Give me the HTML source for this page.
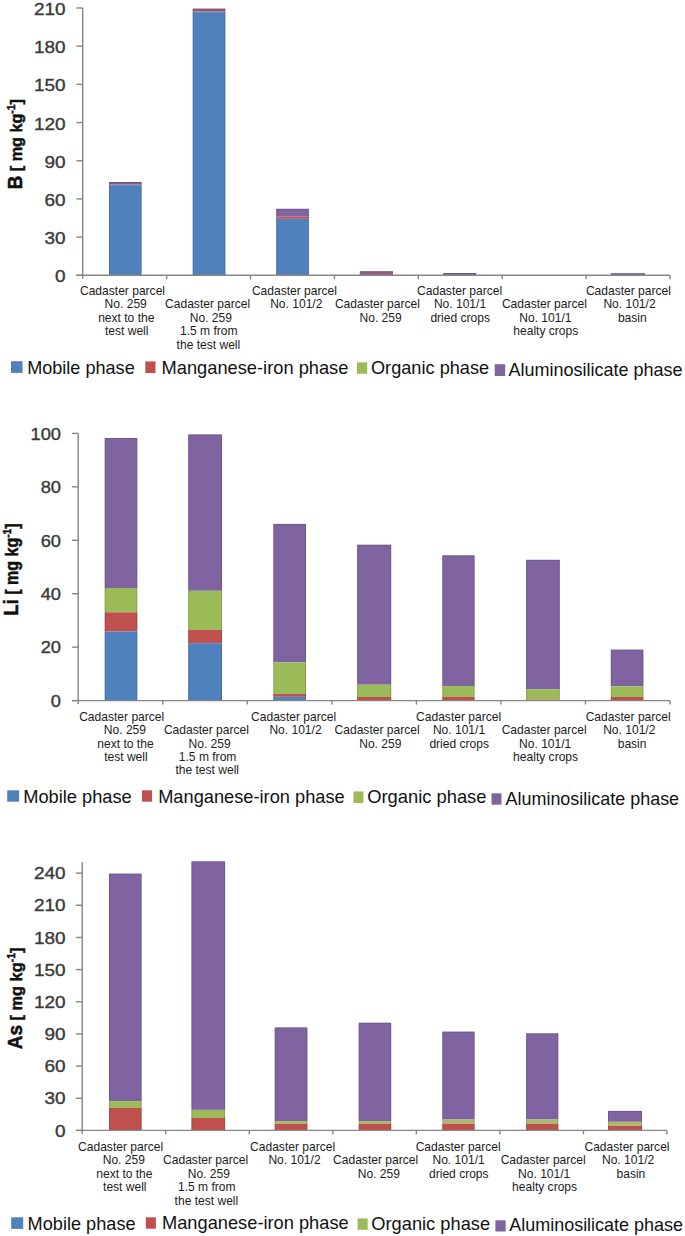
<!DOCTYPE html>
<html><head><meta charset="utf-8"><title>Chart</title>
<style>
html,body{margin:0;padding:0;background:#fff;}
body{width:685px;height:1236px;overflow:hidden;}
svg{display:block;font-family:'Liberation Sans', sans-serif;}
</style></head>
<body>
<svg width="685" height="1236" viewBox="0 0 685 1236">
<rect x="0" y="0" width="685" height="1236" fill="#fff"/>
<rect x="109.00" y="182.00" width="32.60" height="2.40" fill="#84608C"/>
<rect x="109.00" y="184.40" width="32.60" height="1.40" fill="#6A6FA6"/>
<rect x="109.00" y="185.80" width="32.60" height="89.50" fill="#4F81BD"/>
<path d="M109.50,275.30 V182.50 H141.10 V275.30" fill="none" stroke="#000" stroke-opacity="0.13" stroke-width="1"/>
<rect x="192.70" y="8.60" width="32.70" height="2.80" fill="#985A6C"/>
<rect x="192.70" y="11.40" width="32.70" height="1.40" fill="#6C6FA4"/>
<rect x="192.70" y="12.80" width="32.70" height="262.50" fill="#4F81BD"/>
<path d="M193.20,275.30 V9.10 H224.90 V275.30" fill="none" stroke="#000" stroke-opacity="0.13" stroke-width="1"/>
<rect x="276.20" y="208.80" width="32.70" height="7.70" fill="#8064A2"/>
<rect x="276.20" y="216.50" width="32.70" height="2.30" fill="#C0504D"/>
<rect x="276.20" y="218.80" width="32.70" height="56.50" fill="#4F81BD"/>
<path d="M276.70,275.30 V209.30 H308.40 V275.30" fill="none" stroke="#000" stroke-opacity="0.13" stroke-width="1"/>
<rect x="359.80" y="271.20" width="33.10" height="4.10" fill="#945E82"/>
<path d="M360.30,275.30 V271.70 H392.40 V275.30" fill="none" stroke="#000" stroke-opacity="0.13" stroke-width="1"/>
<rect x="443.30" y="273.00" width="32.90" height="2.30" fill="#8064A2"/>
<path d="M443.80,275.30 V273.50 H475.70 V275.30" fill="none" stroke="#000" stroke-opacity="0.13" stroke-width="1"/>
<rect x="610.80" y="273.20" width="34.20" height="2.10" fill="#8064A2"/>
<path d="M611.30,275.30 V273.70 H644.50 V275.30" fill="none" stroke="#000" stroke-opacity="0.13" stroke-width="1"/>
<line x1="82.70" y1="8.00" x2="82.70" y2="278.80" stroke="#868686" stroke-width="1.4"/>
<line x1="76.40" y1="275.30" x2="82.70" y2="275.30" stroke="#868686" stroke-width="1.4"/>
<text x="65.60" y="282.40" font-size="16.2" fill="#3a3a3a" stroke="#3a3a3a" stroke-width="0.35" text-anchor="end" transform="translate(65.60,0) scale(1.17,1) translate(-65.60,0)">0</text>
<line x1="76.40" y1="237.11" x2="82.70" y2="237.11" stroke="#868686" stroke-width="1.4"/>
<text x="65.60" y="244.21" font-size="16.2" fill="#3a3a3a" stroke="#3a3a3a" stroke-width="0.35" text-anchor="end" transform="translate(65.60,0) scale(1.17,1) translate(-65.60,0)">30</text>
<line x1="76.40" y1="198.92" x2="82.70" y2="198.92" stroke="#868686" stroke-width="1.4"/>
<text x="65.60" y="206.02" font-size="16.2" fill="#3a3a3a" stroke="#3a3a3a" stroke-width="0.35" text-anchor="end" transform="translate(65.60,0) scale(1.17,1) translate(-65.60,0)">60</text>
<line x1="76.40" y1="160.73" x2="82.70" y2="160.73" stroke="#868686" stroke-width="1.4"/>
<text x="65.60" y="167.83" font-size="16.2" fill="#3a3a3a" stroke="#3a3a3a" stroke-width="0.35" text-anchor="end" transform="translate(65.60,0) scale(1.17,1) translate(-65.60,0)">90</text>
<line x1="76.40" y1="122.54" x2="82.70" y2="122.54" stroke="#868686" stroke-width="1.4"/>
<text x="65.60" y="129.64" font-size="16.2" fill="#3a3a3a" stroke="#3a3a3a" stroke-width="0.35" text-anchor="end" transform="translate(65.60,0) scale(1.17,1) translate(-65.60,0)">120</text>
<line x1="76.40" y1="84.35" x2="82.70" y2="84.35" stroke="#868686" stroke-width="1.4"/>
<text x="65.60" y="91.45" font-size="16.2" fill="#3a3a3a" stroke="#3a3a3a" stroke-width="0.35" text-anchor="end" transform="translate(65.60,0) scale(1.17,1) translate(-65.60,0)">150</text>
<line x1="76.40" y1="46.16" x2="82.70" y2="46.16" stroke="#868686" stroke-width="1.4"/>
<text x="65.60" y="53.26" font-size="16.2" fill="#3a3a3a" stroke="#3a3a3a" stroke-width="0.35" text-anchor="end" transform="translate(65.60,0) scale(1.17,1) translate(-65.60,0)">180</text>
<line x1="76.40" y1="7.97" x2="82.70" y2="7.97" stroke="#868686" stroke-width="1.4"/>
<text x="65.60" y="15.07" font-size="16.2" fill="#3a3a3a" stroke="#3a3a3a" stroke-width="0.35" text-anchor="end" transform="translate(65.60,0) scale(1.17,1) translate(-65.60,0)">210</text>
<line x1="76.40" y1="275.30" x2="670.00" y2="275.30" stroke="#868686" stroke-width="1.4"/>
<line x1="166.60" y1="275.30" x2="166.60" y2="279.30" stroke="#868686" stroke-width="1.4"/>
<line x1="250.50" y1="275.30" x2="250.50" y2="279.30" stroke="#868686" stroke-width="1.4"/>
<line x1="334.40" y1="275.30" x2="334.40" y2="279.30" stroke="#868686" stroke-width="1.4"/>
<line x1="418.30" y1="275.30" x2="418.30" y2="279.30" stroke="#868686" stroke-width="1.4"/>
<line x1="502.20" y1="275.30" x2="502.20" y2="279.30" stroke="#868686" stroke-width="1.4"/>
<line x1="586.10" y1="275.30" x2="586.10" y2="279.30" stroke="#868686" stroke-width="1.4"/>
<line x1="670.00" y1="275.30" x2="670.00" y2="279.30" stroke="#868686" stroke-width="1.4"/>
<text x="122.50" y="295.10" font-size="12.05" fill="#1c1c1c" text-anchor="middle" font-weight="normal" >Cadaster parcel</text>
<text x="125.70" y="308.47" font-size="12.05" fill="#1c1c1c" text-anchor="middle" font-weight="normal" >No. 259</text>
<text x="126.30" y="321.84" font-size="12.05" fill="#1c1c1c" text-anchor="middle" font-weight="normal" >next to the</text>
<text x="126.70" y="335.21" font-size="12.05" fill="#1c1c1c" text-anchor="middle" font-weight="normal" >test well</text>
<text x="207.60" y="308.47" font-size="12.05" fill="#1c1c1c" text-anchor="middle" font-weight="normal" >Cadaster parcel</text>
<text x="210.80" y="321.84" font-size="12.05" fill="#1c1c1c" text-anchor="middle" font-weight="normal" >No. 259</text>
<text x="208.80" y="335.21" font-size="12.05" fill="#1c1c1c" text-anchor="middle" font-weight="normal" >1.5 m from</text>
<text x="208.40" y="348.58" font-size="12.05" fill="#1c1c1c" text-anchor="middle" font-weight="normal" >the test well</text>
<text x="294.40" y="295.10" font-size="12.05" fill="#1c1c1c" text-anchor="middle" font-weight="normal" >Cadaster parcel</text>
<text x="296.30" y="308.47" font-size="12.05" fill="#1c1c1c" text-anchor="middle" font-weight="normal" >No. 101/2</text>
<text x="377.40" y="308.47" font-size="12.05" fill="#1c1c1c" text-anchor="middle" font-weight="normal" >Cadaster parcel</text>
<text x="380.60" y="321.84" font-size="12.05" fill="#1c1c1c" text-anchor="middle" font-weight="normal" >No. 259</text>
<text x="459.60" y="295.10" font-size="12.05" fill="#1c1c1c" text-anchor="middle" font-weight="normal" >Cadaster parcel</text>
<text x="460.00" y="308.47" font-size="12.05" fill="#1c1c1c" text-anchor="middle" font-weight="normal" >No. 101/1</text>
<text x="460.20" y="321.84" font-size="12.05" fill="#1c1c1c" text-anchor="middle" font-weight="normal" >dried crops</text>
<text x="544.40" y="308.47" font-size="12.05" fill="#1c1c1c" text-anchor="middle" font-weight="normal" >Cadaster parcel</text>
<text x="545.40" y="321.84" font-size="12.05" fill="#1c1c1c" text-anchor="middle" font-weight="normal" >No. 101/1</text>
<text x="545.80" y="335.21" font-size="12.05" fill="#1c1c1c" text-anchor="middle" font-weight="normal" >healty crops</text>
<text x="628.40" y="295.10" font-size="12.05" fill="#1c1c1c" text-anchor="middle" font-weight="normal" >Cadaster parcel</text>
<text x="629.50" y="308.47" font-size="12.05" fill="#1c1c1c" text-anchor="middle" font-weight="normal" >No. 101/2</text>
<text x="632.30" y="321.84" font-size="12.05" fill="#1c1c1c" text-anchor="middle" font-weight="normal" >basin</text>
<text transform="translate(22.20,189.30) rotate(-90)" x="0" y="0" font-size="20.0" font-weight="bold" fill="#111" stroke="#111" stroke-width="0.5" textLength="90.30" lengthAdjust="spacingAndGlyphs">B<tspan font-size="17.2"> [ mg kg</tspan><tspan font-size="11.0" dy="-6.8">-1</tspan><tspan font-size="17.2" dy="6.8">]</tspan></text>
<rect x="11.00" y="361.20" width="11.60" height="11.70" fill="#4F81BD"/>
<text x="27.20" y="373.60" font-size="17.9" fill="#111" textLength="107.50" lengthAdjust="spacingAndGlyphs">Mobile phase</text>
<rect x="145.30" y="361.40" width="10.20" height="11.60" fill="#C0504D"/>
<text x="161.60" y="373.80" font-size="17.9" fill="#111" textLength="186.80" lengthAdjust="spacingAndGlyphs">Manganese-iron phase</text>
<rect x="357.00" y="362.30" width="10.20" height="11.50" fill="#9BBB59"/>
<text x="371.00" y="374.30" font-size="17.9" fill="#111" textLength="118.10" lengthAdjust="spacingAndGlyphs">Organic phase</text>
<rect x="494.70" y="364.20" width="10.50" height="11.80" fill="#8064A2"/>
<text x="508.50" y="375.60" font-size="17.9" fill="#111" textLength="174.10" lengthAdjust="spacingAndGlyphs">Aluminosilicate phase</text>
<rect x="104.70" y="438.00" width="32.60" height="150.00" fill="#8064A2"/>
<rect x="104.70" y="588.00" width="32.60" height="24.30" fill="#9BBB59"/>
<rect x="104.70" y="612.30" width="32.60" height="19.20" fill="#C0504D"/>
<rect x="104.70" y="631.50" width="32.60" height="69.10" fill="#4F81BD"/>
<path d="M105.20,700.60 V438.50 H136.80 V700.60" fill="none" stroke="#000" stroke-opacity="0.13" stroke-width="1"/>
<rect x="188.20" y="434.40" width="33.80" height="156.40" fill="#8064A2"/>
<rect x="188.20" y="590.80" width="33.80" height="39.10" fill="#9BBB59"/>
<rect x="188.20" y="629.90" width="33.80" height="13.30" fill="#C0504D"/>
<rect x="188.20" y="643.20" width="33.80" height="57.40" fill="#4F81BD"/>
<path d="M188.70,700.60 V434.90 H221.50 V700.60" fill="none" stroke="#000" stroke-opacity="0.13" stroke-width="1"/>
<rect x="273.30" y="523.90" width="32.70" height="138.40" fill="#8064A2"/>
<rect x="273.30" y="662.30" width="32.70" height="31.70" fill="#9BBB59"/>
<rect x="273.30" y="694.00" width="32.70" height="2.80" fill="#C0504D"/>
<rect x="273.30" y="696.80" width="32.70" height="3.80" fill="#4F81BD"/>
<path d="M273.80,700.60 V524.40 H305.50 V700.60" fill="none" stroke="#000" stroke-opacity="0.13" stroke-width="1"/>
<rect x="357.10" y="544.70" width="34.10" height="140.00" fill="#8064A2"/>
<rect x="357.10" y="684.70" width="34.10" height="12.30" fill="#9BBB59"/>
<rect x="357.10" y="697.00" width="34.10" height="3.60" fill="#C0504D"/>
<path d="M357.60,700.60 V545.20 H390.70 V700.60" fill="none" stroke="#000" stroke-opacity="0.13" stroke-width="1"/>
<rect x="442.30" y="555.30" width="32.30" height="130.80" fill="#8064A2"/>
<rect x="442.30" y="686.10" width="32.30" height="10.70" fill="#9BBB59"/>
<rect x="442.30" y="696.80" width="32.30" height="3.80" fill="#C0504D"/>
<path d="M442.80,700.60 V555.80 H474.10 V700.60" fill="none" stroke="#000" stroke-opacity="0.13" stroke-width="1"/>
<rect x="526.10" y="559.80" width="33.70" height="129.40" fill="#8064A2"/>
<rect x="526.10" y="689.20" width="33.70" height="10.40" fill="#9BBB59"/>
<rect x="526.10" y="699.60" width="33.70" height="1.00" fill="#C0504D"/>
<path d="M526.60,700.60 V560.30 H559.30 V700.60" fill="none" stroke="#000" stroke-opacity="0.13" stroke-width="1"/>
<rect x="610.80" y="649.60" width="32.60" height="36.80" fill="#8064A2"/>
<rect x="610.80" y="686.40" width="32.60" height="10.50" fill="#9BBB59"/>
<rect x="610.80" y="696.90" width="32.60" height="3.70" fill="#C0504D"/>
<path d="M611.30,700.60 V650.10 H642.90 V700.60" fill="none" stroke="#000" stroke-opacity="0.13" stroke-width="1"/>
<line x1="78.20" y1="433.40" x2="78.20" y2="704.10" stroke="#868686" stroke-width="1.4"/>
<line x1="71.90" y1="700.60" x2="78.20" y2="700.60" stroke="#868686" stroke-width="1.4"/>
<text x="61.00" y="706.90" font-size="15.6" fill="#3a3a3a" stroke="#3a3a3a" stroke-width="0.35" text-anchor="end" transform="translate(61.00,0) scale(1.17,1) translate(-61.00,0)">0</text>
<line x1="71.90" y1="647.16" x2="78.20" y2="647.16" stroke="#868686" stroke-width="1.4"/>
<text x="61.00" y="653.46" font-size="15.6" fill="#3a3a3a" stroke="#3a3a3a" stroke-width="0.35" text-anchor="end" transform="translate(61.00,0) scale(1.17,1) translate(-61.00,0)">20</text>
<line x1="71.90" y1="593.72" x2="78.20" y2="593.72" stroke="#868686" stroke-width="1.4"/>
<text x="61.00" y="600.02" font-size="15.6" fill="#3a3a3a" stroke="#3a3a3a" stroke-width="0.35" text-anchor="end" transform="translate(61.00,0) scale(1.17,1) translate(-61.00,0)">40</text>
<line x1="71.90" y1="540.28" x2="78.20" y2="540.28" stroke="#868686" stroke-width="1.4"/>
<text x="61.00" y="546.58" font-size="15.6" fill="#3a3a3a" stroke="#3a3a3a" stroke-width="0.35" text-anchor="end" transform="translate(61.00,0) scale(1.17,1) translate(-61.00,0)">60</text>
<line x1="71.90" y1="486.84" x2="78.20" y2="486.84" stroke="#868686" stroke-width="1.4"/>
<text x="61.00" y="493.14" font-size="15.6" fill="#3a3a3a" stroke="#3a3a3a" stroke-width="0.35" text-anchor="end" transform="translate(61.00,0) scale(1.17,1) translate(-61.00,0)">80</text>
<line x1="71.90" y1="433.40" x2="78.20" y2="433.40" stroke="#868686" stroke-width="1.4"/>
<text x="61.00" y="439.70" font-size="15.6" fill="#3a3a3a" stroke="#3a3a3a" stroke-width="0.35" text-anchor="end" transform="translate(61.00,0) scale(1.17,1) translate(-61.00,0)">100</text>
<line x1="71.90" y1="700.60" x2="670.00" y2="700.60" stroke="#868686" stroke-width="1.4"/>
<line x1="162.74" y1="700.60" x2="162.74" y2="704.60" stroke="#868686" stroke-width="1.4"/>
<line x1="247.29" y1="700.60" x2="247.29" y2="704.60" stroke="#868686" stroke-width="1.4"/>
<line x1="331.83" y1="700.60" x2="331.83" y2="704.60" stroke="#868686" stroke-width="1.4"/>
<line x1="416.37" y1="700.60" x2="416.37" y2="704.60" stroke="#868686" stroke-width="1.4"/>
<line x1="500.91" y1="700.60" x2="500.91" y2="704.60" stroke="#868686" stroke-width="1.4"/>
<line x1="585.46" y1="700.60" x2="585.46" y2="704.60" stroke="#868686" stroke-width="1.4"/>
<line x1="670.00" y1="700.60" x2="670.00" y2="704.60" stroke="#868686" stroke-width="1.4"/>
<text x="121.70" y="720.80" font-size="12.05" fill="#1c1c1c" text-anchor="middle" font-weight="normal" >Cadaster parcel</text>
<text x="124.90" y="734.17" font-size="12.05" fill="#1c1c1c" text-anchor="middle" font-weight="normal" >No. 259</text>
<text x="125.50" y="747.54" font-size="12.05" fill="#1c1c1c" text-anchor="middle" font-weight="normal" >next to the</text>
<text x="125.90" y="760.91" font-size="12.05" fill="#1c1c1c" text-anchor="middle" font-weight="normal" >test well</text>
<text x="206.40" y="734.17" font-size="12.05" fill="#1c1c1c" text-anchor="middle" font-weight="normal" >Cadaster parcel</text>
<text x="209.60" y="747.54" font-size="12.05" fill="#1c1c1c" text-anchor="middle" font-weight="normal" >No. 259</text>
<text x="207.60" y="760.91" font-size="12.05" fill="#1c1c1c" text-anchor="middle" font-weight="normal" >1.5 m from</text>
<text x="207.20" y="774.28" font-size="12.05" fill="#1c1c1c" text-anchor="middle" font-weight="normal" >the test well</text>
<text x="293.60" y="720.80" font-size="12.05" fill="#1c1c1c" text-anchor="middle" font-weight="normal" >Cadaster parcel</text>
<text x="295.50" y="734.17" font-size="12.05" fill="#1c1c1c" text-anchor="middle" font-weight="normal" >No. 101/2</text>
<text x="377.10" y="734.17" font-size="12.05" fill="#1c1c1c" text-anchor="middle" font-weight="normal" >Cadaster parcel</text>
<text x="380.30" y="747.54" font-size="12.05" fill="#1c1c1c" text-anchor="middle" font-weight="normal" >No. 259</text>
<text x="458.60" y="720.80" font-size="12.05" fill="#1c1c1c" text-anchor="middle" font-weight="normal" >Cadaster parcel</text>
<text x="459.00" y="734.17" font-size="12.05" fill="#1c1c1c" text-anchor="middle" font-weight="normal" >No. 101/1</text>
<text x="459.20" y="747.54" font-size="12.05" fill="#1c1c1c" text-anchor="middle" font-weight="normal" >dried crops</text>
<text x="544.20" y="734.17" font-size="12.05" fill="#1c1c1c" text-anchor="middle" font-weight="normal" >Cadaster parcel</text>
<text x="545.20" y="747.54" font-size="12.05" fill="#1c1c1c" text-anchor="middle" font-weight="normal" >No. 101/1</text>
<text x="545.60" y="760.91" font-size="12.05" fill="#1c1c1c" text-anchor="middle" font-weight="normal" >healty crops</text>
<text x="628.20" y="720.80" font-size="12.05" fill="#1c1c1c" text-anchor="middle" font-weight="normal" >Cadaster parcel</text>
<text x="629.30" y="734.17" font-size="12.05" fill="#1c1c1c" text-anchor="middle" font-weight="normal" >No. 101/2</text>
<text x="632.10" y="747.54" font-size="12.05" fill="#1c1c1c" text-anchor="middle" font-weight="normal" >basin</text>
<text transform="translate(18.10,615.70) rotate(-90)" x="0" y="0" font-size="20.8" font-weight="bold" fill="#111" stroke="#111" stroke-width="0.5" textLength="92.30" lengthAdjust="spacingAndGlyphs">Li<tspan font-size="17.9"> [ mg kg</tspan><tspan font-size="11.4" dy="-7.1">-1</tspan><tspan font-size="17.9" dy="7.1">]</tspan></text>
<rect x="7.20" y="790.30" width="11.90" height="11.40" fill="#4F81BD"/>
<text x="23.20" y="802.90" font-size="17.9" fill="#111" textLength="108.50" lengthAdjust="spacingAndGlyphs">Mobile phase</text>
<rect x="142.00" y="790.30" width="10.00" height="11.40" fill="#C0504D"/>
<text x="158.20" y="802.70" font-size="17.9" fill="#111" textLength="186.50" lengthAdjust="spacingAndGlyphs">Manganese-iron phase</text>
<rect x="353.50" y="791.40" width="10.00" height="11.60" fill="#9BBB59"/>
<text x="367.20" y="803.40" font-size="17.9" fill="#111" textLength="119.30" lengthAdjust="spacingAndGlyphs">Organic phase</text>
<rect x="491.50" y="793.30" width="10.00" height="11.40" fill="#8064A2"/>
<text x="505.50" y="804.50" font-size="17.9" fill="#111" textLength="173.60" lengthAdjust="spacingAndGlyphs">Aluminosilicate phase</text>
<rect x="109.00" y="873.60" width="32.60" height="227.50" fill="#8064A2"/>
<rect x="109.00" y="1101.10" width="32.60" height="6.70" fill="#9BBB59"/>
<rect x="109.00" y="1107.80" width="32.60" height="22.60" fill="#C0504D"/>
<path d="M109.50,1130.40 V874.10 H141.10 V1130.40" fill="none" stroke="#000" stroke-opacity="0.13" stroke-width="1"/>
<rect x="191.40" y="861.30" width="33.70" height="248.60" fill="#8064A2"/>
<rect x="191.40" y="1109.90" width="33.70" height="8.10" fill="#9BBB59"/>
<rect x="191.40" y="1118.00" width="33.70" height="12.40" fill="#C0504D"/>
<path d="M191.90,1130.40 V861.80 H224.60 V1130.40" fill="none" stroke="#000" stroke-opacity="0.13" stroke-width="1"/>
<rect x="274.70" y="1027.40" width="32.70" height="93.60" fill="#8064A2"/>
<rect x="274.70" y="1121.00" width="32.70" height="3.00" fill="#ABBA6C"/>
<rect x="274.70" y="1124.00" width="32.70" height="6.40" fill="#C0504D"/>
<path d="M275.20,1130.40 V1027.90 H306.90 V1130.40" fill="none" stroke="#000" stroke-opacity="0.13" stroke-width="1"/>
<rect x="358.70" y="1022.70" width="32.50" height="98.30" fill="#8064A2"/>
<rect x="358.70" y="1121.00" width="32.50" height="3.00" fill="#ABBA6C"/>
<rect x="358.70" y="1124.00" width="32.50" height="6.40" fill="#C0504D"/>
<path d="M359.20,1130.40 V1023.20 H390.70 V1130.40" fill="none" stroke="#000" stroke-opacity="0.13" stroke-width="1"/>
<rect x="442.30" y="1031.60" width="32.30" height="87.90" fill="#8064A2"/>
<rect x="442.30" y="1119.50" width="32.30" height="4.30" fill="#ABBA6C"/>
<rect x="442.30" y="1123.80" width="32.30" height="6.60" fill="#C0504D"/>
<path d="M442.80,1130.40 V1032.10 H474.10 V1130.40" fill="none" stroke="#000" stroke-opacity="0.13" stroke-width="1"/>
<rect x="526.10" y="1033.30" width="32.20" height="86.20" fill="#8064A2"/>
<rect x="526.10" y="1119.50" width="32.20" height="4.30" fill="#ABBA6C"/>
<rect x="526.10" y="1123.80" width="32.20" height="6.60" fill="#C0504D"/>
<path d="M526.60,1130.40 V1033.80 H557.80 V1130.40" fill="none" stroke="#000" stroke-opacity="0.13" stroke-width="1"/>
<rect x="608.00" y="1110.90" width="34.00" height="10.90" fill="#8064A2"/>
<rect x="608.00" y="1121.80" width="34.00" height="4.00" fill="#ABBA6C"/>
<rect x="608.00" y="1125.80" width="34.00" height="4.60" fill="#C0504D"/>
<path d="M608.50,1130.40 V1111.40 H641.50 V1130.40" fill="none" stroke="#000" stroke-opacity="0.13" stroke-width="1"/>
<line x1="82.20" y1="862.00" x2="82.20" y2="1133.90" stroke="#868686" stroke-width="1.4"/>
<line x1="75.90" y1="1130.40" x2="82.20" y2="1130.40" stroke="#868686" stroke-width="1.4"/>
<text x="65.60" y="1136.60" font-size="16.2" fill="#3a3a3a" stroke="#3a3a3a" stroke-width="0.35" text-anchor="end" transform="translate(65.60,0) scale(1.17,1) translate(-65.60,0)">0</text>
<line x1="75.90" y1="1098.24" x2="82.20" y2="1098.24" stroke="#868686" stroke-width="1.4"/>
<text x="65.60" y="1104.44" font-size="16.2" fill="#3a3a3a" stroke="#3a3a3a" stroke-width="0.35" text-anchor="end" transform="translate(65.60,0) scale(1.17,1) translate(-65.60,0)">30</text>
<line x1="75.90" y1="1066.08" x2="82.20" y2="1066.08" stroke="#868686" stroke-width="1.4"/>
<text x="65.60" y="1072.28" font-size="16.2" fill="#3a3a3a" stroke="#3a3a3a" stroke-width="0.35" text-anchor="end" transform="translate(65.60,0) scale(1.17,1) translate(-65.60,0)">60</text>
<line x1="75.90" y1="1033.92" x2="82.20" y2="1033.92" stroke="#868686" stroke-width="1.4"/>
<text x="65.60" y="1040.12" font-size="16.2" fill="#3a3a3a" stroke="#3a3a3a" stroke-width="0.35" text-anchor="end" transform="translate(65.60,0) scale(1.17,1) translate(-65.60,0)">90</text>
<line x1="75.90" y1="1001.76" x2="82.20" y2="1001.76" stroke="#868686" stroke-width="1.4"/>
<text x="65.60" y="1007.96" font-size="16.2" fill="#3a3a3a" stroke="#3a3a3a" stroke-width="0.35" text-anchor="end" transform="translate(65.60,0) scale(1.17,1) translate(-65.60,0)">120</text>
<line x1="75.90" y1="969.60" x2="82.20" y2="969.60" stroke="#868686" stroke-width="1.4"/>
<text x="65.60" y="975.80" font-size="16.2" fill="#3a3a3a" stroke="#3a3a3a" stroke-width="0.35" text-anchor="end" transform="translate(65.60,0) scale(1.17,1) translate(-65.60,0)">150</text>
<line x1="75.90" y1="937.44" x2="82.20" y2="937.44" stroke="#868686" stroke-width="1.4"/>
<text x="65.60" y="943.64" font-size="16.2" fill="#3a3a3a" stroke="#3a3a3a" stroke-width="0.35" text-anchor="end" transform="translate(65.60,0) scale(1.17,1) translate(-65.60,0)">180</text>
<line x1="75.90" y1="905.28" x2="82.20" y2="905.28" stroke="#868686" stroke-width="1.4"/>
<text x="65.60" y="911.48" font-size="16.2" fill="#3a3a3a" stroke="#3a3a3a" stroke-width="0.35" text-anchor="end" transform="translate(65.60,0) scale(1.17,1) translate(-65.60,0)">210</text>
<line x1="75.90" y1="873.12" x2="82.20" y2="873.12" stroke="#868686" stroke-width="1.4"/>
<text x="65.60" y="879.32" font-size="16.2" fill="#3a3a3a" stroke="#3a3a3a" stroke-width="0.35" text-anchor="end" transform="translate(65.60,0) scale(1.17,1) translate(-65.60,0)">240</text>
<line x1="75.90" y1="1130.40" x2="667.00" y2="1130.40" stroke="#868686" stroke-width="1.4"/>
<line x1="165.74" y1="1130.40" x2="165.74" y2="1134.40" stroke="#868686" stroke-width="1.4"/>
<line x1="249.29" y1="1130.40" x2="249.29" y2="1134.40" stroke="#868686" stroke-width="1.4"/>
<line x1="332.83" y1="1130.40" x2="332.83" y2="1134.40" stroke="#868686" stroke-width="1.4"/>
<line x1="416.37" y1="1130.40" x2="416.37" y2="1134.40" stroke="#868686" stroke-width="1.4"/>
<line x1="499.91" y1="1130.40" x2="499.91" y2="1134.40" stroke="#868686" stroke-width="1.4"/>
<line x1="583.46" y1="1130.40" x2="583.46" y2="1134.40" stroke="#868686" stroke-width="1.4"/>
<line x1="667.00" y1="1130.40" x2="667.00" y2="1134.40" stroke="#868686" stroke-width="1.4"/>
<text x="120.60" y="1151.10" font-size="12.05" fill="#1c1c1c" text-anchor="middle" font-weight="normal" >Cadaster parcel</text>
<text x="123.80" y="1164.47" font-size="12.05" fill="#1c1c1c" text-anchor="middle" font-weight="normal" >No. 259</text>
<text x="124.40" y="1177.84" font-size="12.05" fill="#1c1c1c" text-anchor="middle" font-weight="normal" >next to the</text>
<text x="124.80" y="1191.21" font-size="12.05" fill="#1c1c1c" text-anchor="middle" font-weight="normal" >test well</text>
<text x="205.60" y="1164.47" font-size="12.05" fill="#1c1c1c" text-anchor="middle" font-weight="normal" >Cadaster parcel</text>
<text x="208.80" y="1177.84" font-size="12.05" fill="#1c1c1c" text-anchor="middle" font-weight="normal" >No. 259</text>
<text x="206.80" y="1191.21" font-size="12.05" fill="#1c1c1c" text-anchor="middle" font-weight="normal" >1.5 m from</text>
<text x="206.40" y="1204.58" font-size="12.05" fill="#1c1c1c" text-anchor="middle" font-weight="normal" >the test well</text>
<text x="292.60" y="1151.10" font-size="12.05" fill="#1c1c1c" text-anchor="middle" font-weight="normal" >Cadaster parcel</text>
<text x="294.50" y="1164.47" font-size="12.05" fill="#1c1c1c" text-anchor="middle" font-weight="normal" >No. 101/2</text>
<text x="375.60" y="1164.47" font-size="12.05" fill="#1c1c1c" text-anchor="middle" font-weight="normal" >Cadaster parcel</text>
<text x="378.80" y="1177.84" font-size="12.05" fill="#1c1c1c" text-anchor="middle" font-weight="normal" >No. 259</text>
<text x="458.20" y="1151.10" font-size="12.05" fill="#1c1c1c" text-anchor="middle" font-weight="normal" >Cadaster parcel</text>
<text x="458.60" y="1164.47" font-size="12.05" fill="#1c1c1c" text-anchor="middle" font-weight="normal" >No. 101/1</text>
<text x="458.80" y="1177.84" font-size="12.05" fill="#1c1c1c" text-anchor="middle" font-weight="normal" >dried crops</text>
<text x="543.20" y="1164.47" font-size="12.05" fill="#1c1c1c" text-anchor="middle" font-weight="normal" >Cadaster parcel</text>
<text x="544.20" y="1177.84" font-size="12.05" fill="#1c1c1c" text-anchor="middle" font-weight="normal" >No. 101/1</text>
<text x="544.60" y="1191.21" font-size="12.05" fill="#1c1c1c" text-anchor="middle" font-weight="normal" >healty crops</text>
<text x="627.00" y="1151.10" font-size="12.05" fill="#1c1c1c" text-anchor="middle" font-weight="normal" >Cadaster parcel</text>
<text x="628.10" y="1164.47" font-size="12.05" fill="#1c1c1c" text-anchor="middle" font-weight="normal" >No. 101/2</text>
<text x="630.90" y="1177.84" font-size="12.05" fill="#1c1c1c" text-anchor="middle" font-weight="normal" >basin</text>
<text transform="translate(22.20,1049.20) rotate(-90)" x="0" y="0" font-size="20.0" font-weight="bold" fill="#111" stroke="#111" stroke-width="0.5" textLength="101.60" lengthAdjust="spacingAndGlyphs">As<tspan font-size="17.2"> [ mg kg</tspan><tspan font-size="11.0" dy="-6.8">-1</tspan><tspan font-size="17.2" dy="6.8">]</tspan></text>
<rect x="11.20" y="1217.30" width="12.00" height="11.60" fill="#4F81BD"/>
<text x="27.60" y="1229.80" font-size="17.9" fill="#111" textLength="108.00" lengthAdjust="spacingAndGlyphs">Mobile phase</text>
<rect x="145.80" y="1217.30" width="10.10" height="11.40" fill="#C0504D"/>
<text x="162.00" y="1229.30" font-size="17.9" fill="#111" textLength="186.70" lengthAdjust="spacingAndGlyphs">Manganese-iron phase</text>
<rect x="357.60" y="1218.40" width="10.10" height="11.40" fill="#9BBB59"/>
<text x="371.30" y="1229.80" font-size="17.9" fill="#111" textLength="118.80" lengthAdjust="spacingAndGlyphs">Organic phase</text>
<rect x="495.40" y="1220.30" width="10.30" height="11.20" fill="#8064A2"/>
<text x="509.20" y="1231.30" font-size="17.9" fill="#111" textLength="173.90" lengthAdjust="spacingAndGlyphs">Aluminosilicate phase</text>
</svg>
</body></html>
